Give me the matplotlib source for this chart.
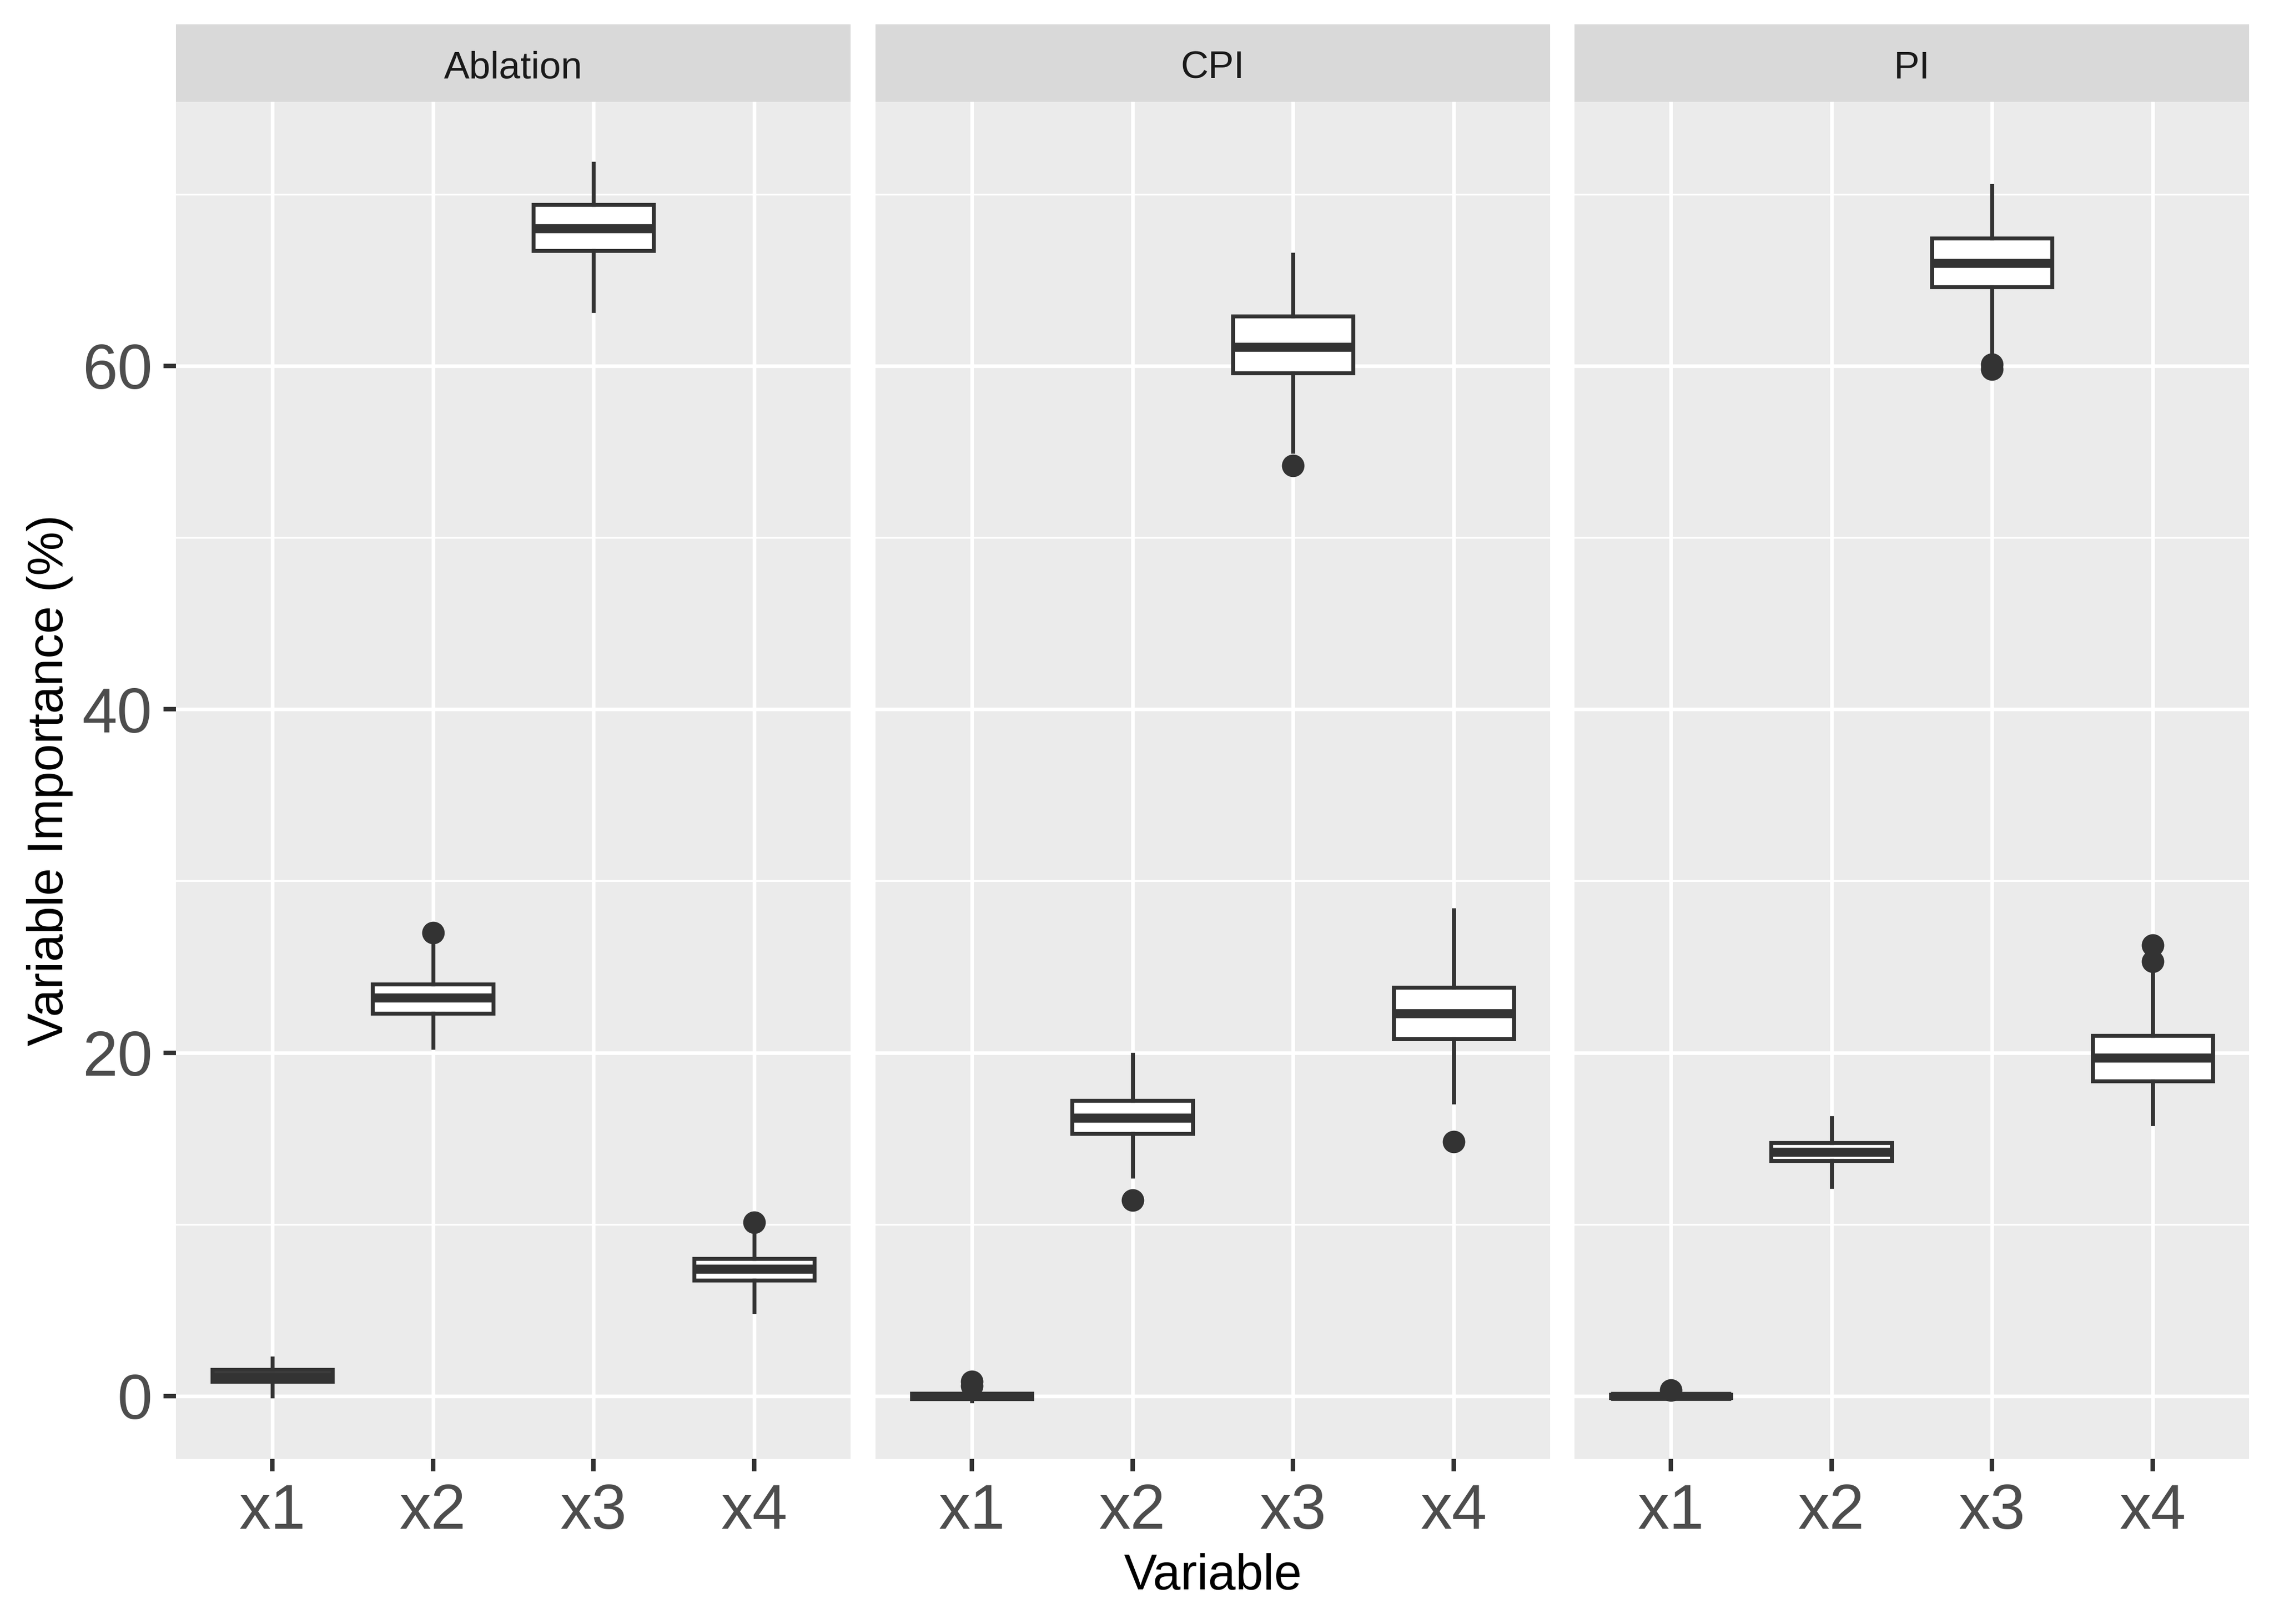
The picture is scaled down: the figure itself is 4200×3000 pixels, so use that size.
import matplotlib
matplotlib.use("Agg")
import matplotlib.pyplot as plt
from matplotlib.ticker import MultipleLocator

plt.rcParams['font.family'] = ['Liberation Sans', 'DejaVu Sans']

methods = ["Ablation", "CPI", "PI"]
variables = ["x1", "x2", "x3", "x4"]

# box stats, one list per method
abl_med = [1.15, 23.2, 68.0, 7.4]
abl_q1 = [0.85, 22.3, 66.7, 6.75]
abl_q3 = [1.55, 24.0, 69.4, 8.0]
abl_lo = [0.0, 20.3, 63.2, 4.9]
abl_hi = [2.2, 26.5, 71.8, 9.6]
abl_out = [[], [27.0], [], [10.1]]

cpi_med = [0.0, 16.2, 61.1, 22.3]
cpi_q1 = [-0.15, 15.3, 59.6, 20.8]
cpi_q3 = [0.15, 17.2, 62.9, 23.8]
cpi_lo = [-0.3, 12.8, 55.0, 17.1]
cpi_hi = [0.35, 19.9, 66.5, 28.3]
cpi_out = [[0.6, 0.85], [11.4], [54.2], [14.8]]

pi_med = [0.0, 14.2, 66.0, 19.7]
pi_q1 = [-0.1, 13.7, 64.6, 18.35]
pi_q3 = [0.1, 14.75, 67.45, 21.0]
pi_lo = [-0.2, 12.2, 60.5, 15.85]
pi_hi = [0.2, 16.2, 70.5, 24.8]
pi_out = [[0.35], [], [59.8, 60.1], [25.3, 26.25]]

data = {
    "Ablation": (abl_med, abl_q1, abl_q3, abl_lo, abl_hi, abl_out),
    "CPI": (cpi_med, cpi_q1, cpi_q3, cpi_lo, cpi_hi, cpi_out),
    "PI": (pi_med, pi_q1, pi_q3, pi_lo, pi_hi, pi_out),
}

dark = '#333333'
fig = plt.figure(figsize=(14, 10), dpi=300)

lefts = [0.0774, 0.3850, 0.6924]
pw = 0.2966
bottom, top = 0.1017, 0.9373
strip_top = 0.985

for i, m in enumerate(methods):
    ax = fig.add_axes([lefts[i], bottom, pw, top - bottom])
    sax = fig.add_axes([lefts[i], top, pw, strip_top - top])
    sax.set_facecolor('#D9D9D9')
    sax.set_xticks([]); sax.set_yticks([])
    for s in sax.spines.values():
        s.set_visible(False)
    sax.text(0.5, 0.43, m, ha='center', va='center', fontsize=17,
             color='#1A1A1A', transform=sax.transAxes)

    med, q1, q3, lo, hi, out = data[m]
    stats = []
    for j, v in enumerate(variables):
        stats.append(dict(med=med[j], q1=q1[j], q3=q3[j], whislo=lo[j],
                          whishi=hi[j], fliers=out[j], label=v))
    ax.bxp(stats, positions=range(1, 5), widths=0.75, patch_artist=True,
           showcaps=False,
           boxprops=dict(facecolor='white', edgecolor=dark, linewidth=1.75),
           whiskerprops=dict(color=dark, linewidth=1.75),
           medianprops=dict(color=dark, linewidth=4, solid_capstyle='butt'),
           flierprops=dict(marker='o', markerfacecolor=dark, markeredgecolor=dark,
                           markersize=9))

    ax.set_facecolor('#EBEBEB')
    ax.set_axisbelow(True)
    for s in ax.spines.values():
        s.set_visible(False)
    ax.set_xlim(0.4, 4.6)
    ax.set_ylim(-3.66, 75.38)
    ax.yaxis.set_major_locator(MultipleLocator(20))
    ax.yaxis.set_minor_locator(MultipleLocator(10))
    ax.grid(which='major', axis='both', color='white', linewidth=1.6)
    ax.grid(which='minor', axis='y', color='white', linewidth=0.8)
    ax.set_xticks(range(1, 5))
    ax.set_xticklabels(variables)
    ax.tick_params(axis='both', which='major', length=5.5, width=2,
                   color=dark, labelsize=28, labelcolor='#4D4D4D', pad=5)
    ax.tick_params(axis='y', which='minor', length=0)
    if i > 0:
        ax.tick_params(axis='y', left=False, labelleft=False)
    if i == 0:
        ax.set_ylabel("Variable Importance (%)", fontsize=22, labelpad=4)
    if i == 1:
        ax.set_xlabel("Variable", fontsize=22, labelpad=5)

fig.savefig("out.png", dpi=300)
